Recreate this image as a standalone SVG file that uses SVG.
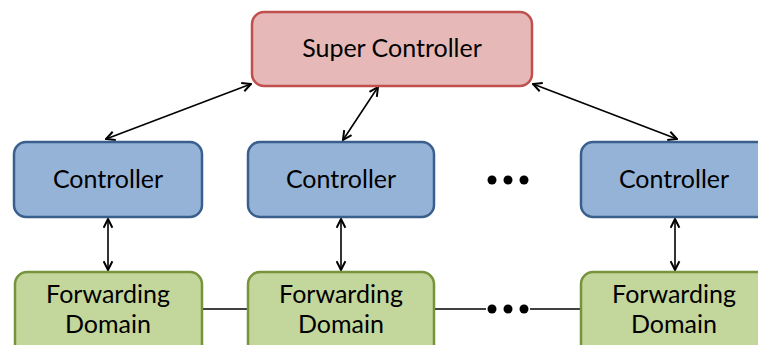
<svg xmlns="http://www.w3.org/2000/svg" width="758" height="345" viewBox="0 0 758 345">
  <style>
    .label { font-family: Lato, "Open Sans", "Liberation Sans", sans-serif; font-size: 25px; fill: #000; text-anchor: middle; }
    .super rect { fill: #E6B9B8; stroke: #C0504D; stroke-width: 2.5; }
    .ctrl rect { fill: #95B3D7; stroke: #3A5F8C; stroke-width: 2.5; }
    .fwd rect { fill: #C3D69B; stroke: #77933C; stroke-width: 2.5; }
    .link { stroke: #000; stroke-width: 1.5; fill: none; }
    .arrow { stroke: #000; stroke-width: 1.6; fill: none; marker-start: url(#head); marker-end: url(#head); }
    .dot { fill: #000; }
  </style>
  <defs>
    <marker id="head" viewBox="0 0 10 10" refX="9" refY="5" markerWidth="11" markerHeight="11" orient="auto-start-reverse" markerUnits="userSpaceOnUse">
      <path d="M1,1 L9,5 L1,9" fill="none" stroke="#000" stroke-width="1.8"/>
    </marker>
  </defs>

  <g id="connectors">
    <!-- super controller to controllers -->
    <line class="arrow" x1="106" y1="139" x2="251" y2="84"/>
    <line class="arrow" x1="343" y1="140" x2="378" y2="87"/>
    <line class="arrow" x1="533" y1="84" x2="677" y2="139"/>
    <!-- controllers to forwarding domains -->
    <line class="arrow" x1="108" y1="219" x2="108" y2="270"/>
    <line class="arrow" x1="341" y1="219" x2="341" y2="270"/>
    <line class="arrow" x1="675" y1="219" x2="675" y2="270"/>
    <!-- links between forwarding domains -->
    <line class="link" x1="202" y1="309" x2="248" y2="309"/>
    <line class="link" x1="434" y1="309" x2="486" y2="309"/>
    <line class="link" x1="530" y1="309" x2="581" y2="309"/>
    <circle class="dot" cx="492" cy="309" r="4.5"/>
    <circle class="dot" cx="508" cy="309" r="4.5"/>
    <circle class="dot" cx="524" cy="309" r="4.5"/>
  </g>

  <g id="super-controller" class="super">
    <rect x="252" y="12" width="280" height="74" rx="12"/>
    <text class="label" x="392" y="57">Super Controller</text>
  </g>

  <g id="controller-1" class="ctrl">
    <rect x="14" y="142" width="188" height="75" rx="12"/>
    <text class="label" x="108" y="188">Controller</text>
  </g>
  <g id="controller-2" class="ctrl">
    <rect x="248" y="142" width="186" height="75" rx="12"/>
    <text class="label" x="341" y="188">Controller</text>
  </g>
  <g id="controller-ellipsis">
    <circle class="dot" cx="492" cy="180" r="4.5"/>
    <circle class="dot" cx="508" cy="180" r="4.5"/>
    <circle class="dot" cx="524" cy="180" r="4.5"/>
  </g>
  <g id="controller-n" class="ctrl">
    <rect x="581" y="142" width="188" height="75" rx="12"/>
    <text class="label" x="674" y="188">Controller</text>
  </g>

  <g id="domain-1" class="fwd">
    <rect x="15" y="272" width="187" height="90" rx="12"/>
    <text class="label" x="108" y="302.5">Forwarding</text>
    <text class="label" x="108" y="332.5">Domain</text>
  </g>
  <g id="domain-2" class="fwd">
    <rect x="248" y="272" width="186" height="90" rx="12"/>
    <text class="label" x="341" y="302.5">Forwarding</text>
    <text class="label" x="341" y="332.5">Domain</text>
  </g>
  <g id="domain-n" class="fwd">
    <rect x="581" y="272" width="188" height="90" rx="12"/>
    <text class="label" x="674" y="302.5">Forwarding</text>
    <text class="label" x="674" y="332.5">Domain</text>
  </g>
</svg>
